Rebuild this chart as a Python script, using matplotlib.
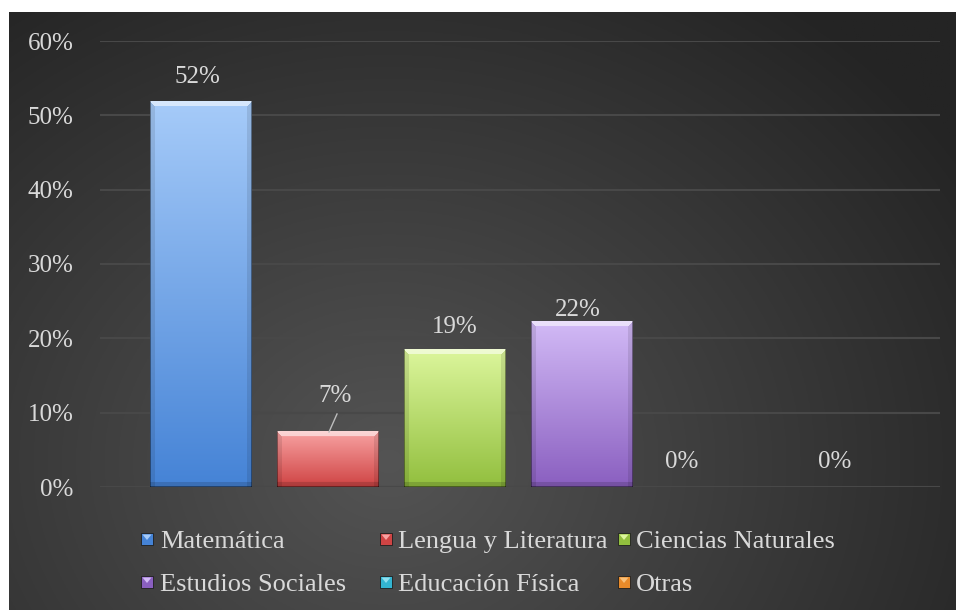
import numpy as np
import matplotlib
matplotlib.use("Agg")
import matplotlib.pyplot as plt
from matplotlib.colors import to_rgb
from matplotlib.patches import Rectangle, Polygon

# ---- data ----
categories = ["Matemática", "Lengua y Literatura", "Ciencias Naturales",
              "Estudios Sociales", "Educación Física", "Otras"]
values = [0.519, 0.074, 0.185, 0.222, 0.0, 0.0]
labels = ["52%", "7%", "19%", "22%", "0%", "0%"]
yticks = [0.0, 0.1, 0.2, 0.3, 0.4, 0.5, 0.6]
ytick_labels = ["0%", "10%", "20%", "30%", "40%", "50%", "60%"]

# styles
top_colors = ["#a6cbf9", "#f8a2a2", "#dcf69c", "#d2baf6", "#8fe0f0", "#f8c07a"]
bot_colors = ["#4583d6", "#cf4444", "#92bf3e", "#8a5fc0", "#33b5d2", "#e88a2a"]
label_dx_px = [-4, 7, 0, -4, -27, -1]
label_dy_px = [24, 36, 22, 12, 25, 25]
TXT = "#d9d9d9"
FONT = "Liberation Serif"
FS = 18
FS_LEG = 19

W, H = 957, 610
fig = plt.figure(figsize=(W / 100, H / 100), dpi=100)
fig.patch.set_facecolor("white")

# background gradient
bg = fig.add_axes([9 / W, 0, 947 / W, 598 / H])
bg.set_axis_off()
ny, nx = 300, 480
yy, xx = np.mgrid[0:ny, 0:nx]
cx, cy = 0.40 * nx, 0.75 * ny
r = np.sqrt(((xx - cx) / nx) ** 2 + ((yy - cy) / ny * 0.75) ** 2)
t = np.clip(r / 0.72, 0, 1)
c0 = np.array(to_rgb("#545454"))
c1 = np.array(to_rgb("#242424"))
img = c0[None, None, :] * (1 - t[..., None]) + c1[None, None, :] * t[..., None]
bg.imshow(img, aspect="auto", extent=[0, 1, 0, 1], origin="upper")
bg.set_xlim(0, 1)
bg.set_ylim(0, 1)

# main axes
ax = fig.add_axes([100 / W, 123 / H, 840 / W, 446 / H])
ax.set_facecolor("none")
n = len(categories)
x = np.arange(n)
for s in ax.spines.values():
    s.set_visible(False)
ax.set_yticks(yticks)
ax.set_yticklabels(ytick_labels, fontfamily=FONT, fontsize=FS, color=TXT)
ax.tick_params(axis="y", length=0, pad=19)
ax.set_xticks([])
ax.yaxis.grid(True, color="#484848", lw=1.5)
ax.set_axisbelow(True)

bw = 102 / 127
bars = ax.bar(x, values, width=bw, color="none", edgecolor="none", zorder=2)

px_per_y = 446 / 0.6
px_per_x = 127.0

def bar_image(top, bot, hpx, wpx):
    hpx = max(int(round(hpx)), 2)
    wpx = max(int(round(wpx)), 2)
    ct = np.array(to_rgb(top)); cb = np.array(to_rgb(bot))
    tv = np.linspace(0, 1, hpx)[:, None, None]
    im = ct * (1 - tv) + cb * tv
    im = np.repeat(im, wpx, axis=1)
    bev = 5
    yy, xx = np.mgrid[0:hpx, 0:wpx]
    topm = (yy < bev) & (xx >= yy) & (xx < wpx - yy)
    im[topm] = im[topm] * 0.45 + 0.55
    sidem = ((xx < bev) | (xx >= wpx - bev)) & ~topm
    im[sidem] = im[sidem] * 0.9
    botm = (yy >= hpx - bev) & ~topm
    im[botm] = im[botm] * 0.85
    im[:, 0] *= 0.6; im[:, -1] *= 0.6; im[-1, :] *= 0.6
    return np.clip(im, 0, 1)

for i, b in enumerate(bars):
    v = values[i]
    if v <= 0:
        continue
    im = bar_image(top_colors[i], bot_colors[i], v * px_per_y, bw * px_per_x)
    ax.imshow(im, extent=[b.get_x(), b.get_x() + bw, 0, v], aspect="auto",
              origin="upper", zorder=2, interpolation="bilinear")

ax.set_xlim(-101 / 127, 739 / 127)
ax.set_ylim(0, 0.6)

# data labels
for i in range(n):
    ax.annotate(labels[i], xy=(x[i], values[i]),
                xytext=(label_dx_px[i], label_dy_px[i]), textcoords="offset pixels",
                ha="center", va="center", fontfamily=FONT, fontsize=FS, color=TXT,
                zorder=4)
# leader line for second label
ax.plot([x[1] + 1 / px_per_x, x[1] + 9 / px_per_x],
        [values[1], values[1] + 18 / px_per_y], color="#bdbdbd", lw=1, zorder=4)

# legend (manual, 2 rows x 3 cols)
marker_x = [147, 386, 624]
text_x = [160, 398, 636]
row_y = [539, 582]
ms = 12
for i, name in enumerate(categories):
    rr, cc = divmod(i, 3)
    mx, my = marker_x[cc], H - row_y[rr]
    fig.patches.append(Rectangle(((mx - ms / 2) / W, (my - ms / 2) / H), ms / W, ms / H,
                                 transform=fig.transFigure, facecolor=bot_colors[i],
                                 edgecolor="#1e1e1e", lw=0.6))
    tri = [((mx - ms / 2 + 1.5) / W, (my + ms / 2 - 1.5) / H),
           ((mx + ms / 2 - 1.5) / W, (my + ms / 2 - 1.5) / H),
           (mx / W, (my - 1) / H)]
    fig.patches.append(Polygon(tri, closed=True, transform=fig.transFigure,
                               facecolor=top_colors[i], edgecolor="none"))
    fig.text(text_x[cc] / W, (my - 9) / H, name, ha="left", va="baseline",
             fontfamily=FONT, fontsize=FS_LEG, color=TXT)

fig.savefig("out.png", dpi=100)
